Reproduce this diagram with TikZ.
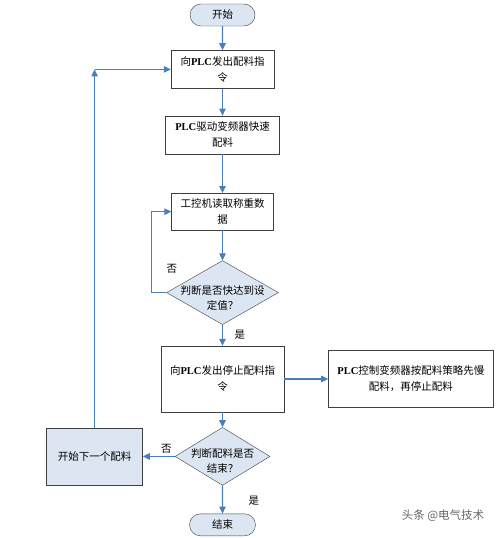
\documentclass[tikz,border=0pt]{standalone}
\usepackage{fontspec}
\setmainfont{Liberation Serif}
\newfontfamily\cjk{Noto Sans CJK SC}
\usetikzlibrary{positioning,arrows.meta,shapes.geometric,shapes.misc}
\definecolor{flowblue}{HTML}{4A7EBB}
\definecolor{paleblue}{HTML}{DCE6F2}
\definecolor{edgegray}{HTML}{3F3F3F}
\newcommand{\plc}{{\rmfamily\bfseries PLC}}
\tikzset{
    >={Triangle[length=7pt,width=6.5pt]},
    procbox/.style={
      rectangle,
      draw=edgegray, thin,
      align=center,
      inner sep=2pt,
      font=\cjk\fontsize{10.5}{16}\selectfont},
    terminal/.style={
      rounded rectangle,
      draw=edgegray, thin,
      fill=paleblue,
      minimum width=67pt,
      minimum height=22pt,
      inner sep=1pt,
      font=\cjk\fontsize{10.5}{12}\selectfont},
    decide/.style={
      diamond,
      draw=edgegray, thin,
      fill=paleblue,
      inner sep=0pt},
    decidetext/.style={align=center, yshift=-5pt, inner sep=0pt,
      font=\cjk\fontsize{10.5}{15}\selectfont},
    flow/.style={draw=flowblue, line width=1.1pt, ->},
    tag/.style={inner sep=0pt, font=\cjk\fontsize{10.5}{12}\selectfont},
}
\begin{document}
\begin{tikzpicture}
      \useasboundingbox (0,0) rectangle (500pt,-538pt);
      % main column
      \node[terminal] (start) at (222.5pt,-15pt) {开始};
      \node[procbox, minimum width=103pt, minimum height=38pt, below=24pt of start] (sendCmd) {向\plc 发出配料指\\令};
      \node[procbox, minimum width=114pt, minimum height=38pt, below=27pt of sendCmd] (fastFeed) {\plc 驱动变频器快速\\配料};
      \node[procbox, minimum width=102pt, minimum height=37pt, below=39pt of fastFeed] (readWeight) {工控机读取称重数\\据};
      \node[decide, minimum width=112pt, minimum height=64pt, below=30pt of readWeight,
            label={[decidetext]center:判断是否快达到设\\定值？}] (nearSet) {};
      \node[procbox, minimum width=123pt, minimum height=66pt, below=21pt of nearSet] (stopCmd) {向\plc 发出停止配料指\\令};
      \node[procbox, minimum width=165pt, minimum height=57pt, right=44pt of stopCmd] (slowFeed) {\plc 控制变频器按配料策略先慢\\配料，再停止配料};
      \node[decide, minimum width=95pt, minimum height=58pt, below=15pt of stopCmd,
            label={[decidetext]center:判断配料是否\\结束？}] (isDone) {};
      \node[terminal, minimum width=68pt, below=28pt of isDone] (finish) {结束};
      \node[procbox, fill=paleblue, minimum width=96pt, minimum height=57pt, left=32pt of isDone] (nextBatch) {开始下一个配料};

      % connectors
      \foreach \a/\b in {start/sendCmd, sendCmd/fastFeed, fastFeed/readWeight, readWeight/nearSet,
                         nearSet/stopCmd, stopCmd/isDone, isDone/finish}
        \draw[flow] (\a) -- (\b);
      \draw[flow] (nearSet.west) -- ++(-15pt,0) |- (readWeight.west);
      \draw[flow] (stopCmd.east) -- (slowFeed.west);
      \draw[flow] (isDone.west) -- (nextBatch.east);
      \coordinate (turn) at (nextBatch.north |- sendCmd.west);
      \draw[flow] (nextBatch.north) -- (turn);
      \draw[flow] (turn) -- (sendCmd.west);

      % yes / no
      \node[tag, above right=19pt and 0pt of nearSet.west] (noNear) {否};
      \node[tag, below right=5pt and 12pt of nearSet.south] (yesNear) {是};
      \node[tag, above left=3pt and 3pt of isDone.west] (noDone) {否};
      \node[tag, below right=10pt and 26pt of isDone.south] (yesDone) {是};

      \node[inner sep=0pt, text=black!60, font=\cjk\fontsize{11.5}{12}\selectfont] (mark) at (443pt,-516pt) {头条 @电气技术};
\end{tikzpicture}
\end{document}
